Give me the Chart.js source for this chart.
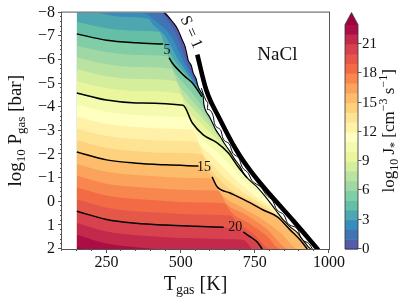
<!DOCTYPE html>
<html>
<head>
<meta charset="utf-8">
<script src="https://cdn.jsdelivr.net/npm/chart.js@4.4.1/dist/chart.umd.min.js"></script>
<style>
  html, body { margin: 0; padding: 0; background: #fff; }
  #wrap { position: relative; width: 407px; height: 305px; }
</style>
</head>
<body>
<div id="wrap"><canvas id="c" width="407" height="305"></canvas></div>
<script>
const SERIF = '"Liberation Serif", "DejaVu Serif", serif';

// axes
const xTicks = [250, 500, 750, 1000];
const yTicks = [-8, -7, -6, -5, -4, -3, -2, -1, 0, 1, 2];
const cbTicks = [0, 3, 6, 9, 12, 15, 18, 21];
const levels = [0, 1, 2, 3, 4, 5, 6, 7, 8, 9, 10, 11, 12, 13, 14, 15, 16, 17, 18, 19, 20, 21, 22, 23];
const tLeft = 150; // first temperature of the grid

// contour of each level: T [K] and log10 Pgas [bar]
const contourT = [
  [],
  [428, 465, 488, 518, 553, 561],
  [363, 430, 468, 507, 550, 563],
  [200, 300, 390, 410, 448, 493, 547, 566],
  [150, 250, 350, 428, 445, 478, 510, 543, 566],
  [150, 250, 350, 441, 461, 471, 498, 515, 539, 556, 572],
  [150, 250, 350, 454, 477, 515, 552, 587],
  [150, 250, 350, 467, 492, 530, 575, 618],
  [150, 250, 350, 481, 508, 550, 598, 648],
  [150, 250, 350, 494, 523, 570, 633, 689],
  [150, 250, 350, 508, 539, 576, 623, 660, 694, 724],
  [150, 250, 350, 450, 523, 552, 590, 630, 670, 705, 755, 779],
  [150, 250, 350, 450, 539, 566, 600, 640, 680, 725, 778, 817],
  [150, 250, 350, 450, 554, 579, 612, 650, 700, 762, 815, 857],
  [150, 250, 350, 450, 570, 593, 625, 670, 745, 805, 852, 905],
  [150, 250, 350, 450, 560, 606, 623, 667, 735, 778, 826, 869, 903, 927],
  [150, 250, 350, 450, 550, 598, 641, 700, 770, 840, 897],
  [150, 250, 350, 450, 550, 624, 658, 720, 790, 866],
  [150, 250, 350, 450, 550, 645, 676, 735, 790, 836],
  [150, 250, 350, 450, 550, 667, 693, 745, 805],
  [150, 250, 350, 450, 550, 645, 711, 735, 758, 775],
  [150, 250, 350, 450, 550, 650, 712, 728, 742],
  [150, 250, 350, 420],
  [150, 175]
];
const contourP = [
  [],
  [-8, -7.5, -7.0, -6.0, -5.0, -4.85],
  [-8, -7.5, -7.0, -6.0, -5.0, -4.75],
  [-8, -7.82, -7.74, -7.45, -7.0, -6.0, -5.0, -4.7],
  [-7.6, -7.34, -7.23, -7.18, -6.7, -6.0, -5.5, -5.0, -4.6],
  [-7.1, -6.83, -6.72, -6.67, -6.09, -5.88, -5.5, -5.29, -5.03, -4.74, -4.44],
  [-6.6, -6.33, -6.21, -6.15, -5.54, -4.95, -4.4, -3.8],
  [-6.1, -5.82, -5.7, -5.63, -4.99, -4.4, -3.75, -3.1],
  [-5.6, -5.31, -5.19, -5.11, -4.44, -3.85, -3.2, -2.45],
  [-5.1, -4.81, -4.68, -4.59, -3.89, -3.3, -2.5, -1.7],
  [-4.6, -4.3, -4.18, -4.08, -3.34, -2.83, -2.49, -2.07, -1.47, -1.01],
  [-4.1, -3.8, -3.67, -3.6, -3.56, -2.88, -2.45, -2.0, -1.5, -1.0, -0.5, -0.3],
  [-3.6, -3.29, -3.16, -3.09, -3.05, -2.42, -2.0, -1.5, -1.0, -0.5, 0.0, 0.3],
  [-3.1, -2.79, -2.65, -2.58, -2.53, -1.96, -1.5, -1.0, -0.5, 0.0, 0.45, 0.9],
  [-2.6, -2.28, -2.14, -2.07, -2.01, -1.51, -1.0, -0.5, 0.0, 0.45, 0.9, 1.5],
  [-2.1, -1.77, -1.63, -1.56, -1.51, -1.05, -0.63, -0.37, 0.05, 0.35, 0.64, 1.19, 1.62, 2.0],
  [-1.6, -1.27, -1.13, -1.05, -1.0, -0.99, -0.25, 0.2, 0.7, 1.35, 2.0],
  [-1.1, -0.76, -0.62, -0.54, -0.49, -0.46, 0.13, 0.55, 1.15, 2.0],
  [-0.6, -0.26, -0.11, -0.03, 0.03, 0.06, 0.51, 0.95, 1.45, 2.0],
  [-0.1, 0.25, 0.4, 0.48, 0.54, 0.58, 0.9, 1.35, 2.0],
  [0.4, 0.75, 0.91, 0.99, 1.04, 1.08, 1.28, 1.49, 1.7, 2.0],
  [0.9, 1.26, 1.42, 1.5, 1.55, 1.59, 1.62, 1.8, 2.0],
  [1.4, 1.77, 1.93, 2.0],
  [1.9, 2.0]
];

// right edge of the nucleating region (J* -> 0)
const edgeT = [445, 476, 490, 498, 505, 515, 520, 525, 536, 542, 552, 559, 568, 576, 578, 583, 597, 607, 618, 634,
  648, 667, 682, 701, 712, 725, 742, 758, 780, 802, 820, 846, 868, 894, 912, 931, 938];
const edgeP = [-8, -7.56, -7.3, -7.07, -6.85, -6.56, -6.3, -6.0, -5.75, -5.46, -5.2, -4.86, -4.65, -4.44, -4.15, -3.89,
  -3.6, -3.34, -3.05, -2.75, -2.45, -2.11, -1.8, -1.47, -1.2, -1.0, -0.8, -0.62, -0.3, 0.05, 0.35, 0.77, 1.05, 1.32,
  1.62, 1.92, 2.0];
// second jagged contour beside the edge
const outerT = [570, 578, 592, 590, 610, 614, 636, 642, 666, 674, 698, 706, 728, 740, 772, 788, 812, 822, 850, 860, 896, 904, 934, 944];
const outerP = [-4.8, -4.5, -4.2, -3.9, -3.6, -3.3, -3.0, -2.7, -2.4, -2.1, -1.8, -1.5, -1.2, -0.9, -0.6, -0.3, 0.0, 0.3, 0.6, 0.9, 1.2, 1.5, 1.8, 2.0];
// saturation S = 1
const satT = [556, 586, 633, 687, 738, 802, 880, 964];
const satP = [-6.22, -4.74, -3.47, -2.2, -1.26, -0.29, 0.81, 2.04];

// labelled contours
const labelLevels = [5, 15, 20];
const labelGapAfter = [3, 4, 5];
const labelT = [454, 579, 684];
const labelP = [-6.39, -1.47, 1.07];

const spectral = ['#9e0142', '#d53e4f', '#f46d43', '#fdae61', '#fee08b', '#ffffbf', '#e6f598', '#abdda4', '#66c2a5', '#3288bd', '#5e4fa2'];
function hexRgb(h) { return [1, 3, 5].map(i => parseInt(h.slice(i, i + 2), 16)); }
function spectralR(t) {
  const s = (1 - Math.min(Math.max(t, 0), 1)) * 10;
  const i = Math.min(Math.floor(s), 9), f = s - i;
  const a = hexRgb(spectral[i]), b = hexRgb(spectral[i + 1]);
  const c = a.map((v, k) => Math.round(v + (b[k] - v) * f));
  return `rgb(${c[0]},${c[1]},${c[2]})`;
}
function bandColor(level) {
  return level >= 23 ? '#9e0142' : spectralR((level + 0.5) / 23);
}

// region J* >= level: the level's contour, closed along the edge
function levelPoints(level) {
  const pts = contourT[level].map((t, i) => ({ x: t, y: contourP[level][i] }));
  if (!pts.length || (pts[0].y <= -8 && pts[0].x > tLeft)) pts.unshift({ x: tLeft, y: -8 });
  const last = pts[pts.length - 1];
  edgeT.forEach((t, i) => {
    if (t > last.x && edgeP[i] >= last.y) pts.push({ x: t, y: edgeP[i] });
  });
  return pts;
}

function linePoints(level) {
  const pts = contourT[level].map((t, i) => ({ x: t, y: contourP[level][i] }));
  const k = labelLevels.indexOf(level);
  if (k >= 0) pts.splice(labelGapAfter[k] + 1, 0, { x: labelT[k], y: null });
  return pts;
}

const fills = levels.map(level => ({
  type: 'line',
  data: levelPoints(level),
  fill: { value: 2 },
  backgroundColor: bandColor(level),
  borderColor: 'rgba(0,0,0,0)',
  borderWidth: 0,
  pointRadius: 0,
  cubicInterpolationMode: 'monotone',
  order: 100 - level
}));

const blackLine = (data, width) => ({
  type: 'line', data, fill: false, borderColor: '#000', borderWidth: width,
  pointRadius: 0, cubicInterpolationMode: 'monotone', spanGaps: false, order: 1
});

const lines = [
  ...[5, 10, 15, 20].map(l => blackLine(linePoints(l), 1.5)),
  blackLine(edgeT.map((t, i) => ({ x: t, y: edgeP[i] })), 1.1),
  blackLine(outerT.map((t, i) => ({ x: t, y: outerP[i] })), 1.0),
  { ...blackLine(satT.map((t, i) => ({ x: t, y: satP[i] })), 4.6), borderCapStyle: 'butt' }
];

function richText(ctx, parts, x, y, angle) {
  ctx.save();
  ctx.translate(x, y);
  ctx.rotate(angle);
  let w = 0;
  parts.forEach(p => { ctx.font = `${p.size}px ${SERIF}`; p.w = ctx.measureText(p.t).width; w += p.w; });
  let cx = -w / 2;
  ctx.fillStyle = '#111';
  ctx.textAlign = 'left';
  ctx.textBaseline = 'alphabetic';
  parts.forEach(p => { ctx.font = `${p.size}px ${SERIF}`; ctx.fillText(p.t, cx, p.dy || 0); cx += p.w; });
  ctx.restore();
}

const decor = {
  id: 'decor',
  afterDatasetsDraw(chart) {
    const { ctx, chartArea: a } = chart;
    const { x, y, cb } = chart.scales;
    ctx.save();

    // contour labels
    ctx.fillStyle = '#111';
    ctx.font = `14px ${SERIF}`;
    ctx.textAlign = 'center';
    ctx.textBaseline = 'middle';
    labelLevels.forEach((l, k) => ctx.fillText(String(l), x.getPixelForValue(labelT[k]), y.getPixelForValue(labelP[k])));

    // S = 1
    ctx.save();
    ctx.translate(x.getPixelForValue(535), y.getPixelForValue(-7.17));
    ctx.rotate(66 * Math.PI / 180);
    ctx.font = `16px ${SERIF}`;
    ctx.fillText('S = 1', 0, 0);
    ctx.restore();

    ctx.font = `19px ${SERIF}`;
    ctx.fillText('NaCl', x.getPixelForValue(826), y.getPixelForValue(-6.22));

    // frame
    ctx.strokeStyle = '#555';
    ctx.lineWidth = 1;
    ctx.strokeRect(a.left - 0.5, a.top - 0.5, a.right - a.left + 1, a.bottom - a.top + 1);

    // ticks
    ctx.beginPath();
    for (let v = 100; v <= 1000; v += 50) {
      const px = Math.round(x.getPixelForValue(v)) - 0.5;
      const len = xTicks.includes(v) ? 4 : 2;
      ctx.moveTo(px, a.bottom); ctx.lineTo(px, a.bottom + len);
    }
    for (let i = 0; i <= 50; i++) {
      const v = -8 + i * 0.2;
      const py = Math.round(y.getPixelForValue(v)) - 0.5;
      const len = i % 5 === 0 ? 4 : 2;
      ctx.moveTo(a.left, py); ctx.lineTo(a.left - len, py);
    }
    ctx.stroke();

    // colorbar
    const bx0 = 345, bx1 = 358;
    levels.slice(0, 23).forEach(l => {
      const top = cb.getPixelForValue(l + 1), bot = cb.getPixelForValue(l);
      ctx.fillStyle = bandColor(l);
      ctx.fillRect(bx0, top, bx1 - bx0, bot - top + 0.5);
    });
    const y23 = cb.getPixelForValue(23), yTip = cb.getPixelForValue(cb.max);
    ctx.fillStyle = bandColor(23);
    ctx.beginPath();
    ctx.moveTo(bx0, y23 + 0.5); ctx.lineTo((bx0 + bx1) / 2, yTip); ctx.lineTo(bx1, y23 + 0.5); ctx.closePath();
    ctx.fill();
    ctx.strokeStyle = '#333';
    ctx.lineWidth = 0.8;
    ctx.beginPath();
    ctx.moveTo(bx0, cb.getPixelForValue(0)); ctx.lineTo(bx0, y23); ctx.lineTo((bx0 + bx1) / 2, yTip);
    ctx.lineTo(bx1, y23); ctx.lineTo(bx1, cb.getPixelForValue(0)); ctx.closePath();
    ctx.stroke();
    ctx.beginPath();
    cbTicks.forEach(v => {
      const py = Math.round(cb.getPixelForValue(v)) - 0.5;
      ctx.moveTo(bx1, py); ctx.lineTo(bx1 + 3.5, py);
    });
    ctx.stroke();

    // axis titles
    richText(ctx, [{ t: 'T', size: 20 }, { t: 'gas', size: 14, dy: 4 }, { t: ' [K]', size: 20 }],
      (a.left + a.right) / 2, 290, 0);
    richText(ctx, [{ t: 'log', size: 19 }, { t: '10', size: 13, dy: 4 }, { t: ' P', size: 19 },
      { t: 'gas', size: 13, dy: 4 }, { t: ' [bar]', size: 19 }], 21, (a.top + a.bottom) / 2, -Math.PI / 2);
    richText(ctx, [{ t: 'log', size: 17 }, { t: '10', size: 12, dy: 4 }, { t: ' J', size: 17 },
      { t: '*', size: 12, dy: 4 }, { t: ' [cm', size: 17 }, { t: '\u22123', size: 12, dy: -7 },
      { t: ' s', size: 17 }, { t: '\u22121', size: 12, dy: -7 }, { t: ']', size: 17 }],
      394, (a.top + a.bottom) / 2, -Math.PI / 2);

    ctx.restore();
  }
};

const tickFont = { family: SERIF, size: 16 };
const minus = v => (v < 0 ? '\u2212' + Math.abs(v) : String(v));

new Chart(document.getElementById('c'), {
  type: 'line',
  data: { datasets: [...fills, ...lines] },
  options: {
    responsive: false,
    animation: false,
    events: [],
    layout: { padding: 0 },
    plugins: { legend: { display: false }, tooltip: { enabled: false } },
    scales: {
      x: {
        type: 'linear', min: 100, max: 1000, position: 'bottom',
        afterBuildTicks: s => { s.ticks = xTicks.map(v => ({ value: v })); },
        afterFit: s => { s.height = 56; },
        grid: { display: false, drawTicks: true, tickLength: 4 },
        border: { display: false },
        ticks: { padding: 0, color: '#111', font: tickFont, maxRotation: 0, autoSkip: false, callback: v => String(v) }
      },
      y: {
        type: 'linear', min: -8, max: 2, reverse: true, position: 'left',
        afterBuildTicks: s => { s.ticks = yTicks.map(v => ({ value: v })); },
        afterFit: s => { s.width = 62; },
        grid: { display: false, drawTicks: true, tickLength: 4 },
        border: { display: false },
        ticks: { padding: 3, color: '#111', font: tickFont, callback: minus, autoSkip: false }
      },
      cb: {
        type: 'linear', min: 0, max: 24.23, position: 'right',
        afterBuildTicks: s => { s.ticks = cbTicks.map(v => ({ value: v })); },
        afterFit: s => { s.width = 78; },
        grid: { display: false, drawTicks: true, tickLength: 30 },
        border: { display: false },
        ticks: { padding: 3, color: '#111', font: { family: SERIF, size: 15 }, autoSkip: false }
      }
    }
  },
  plugins: [decor]
});
</script>
</body>
</html>
